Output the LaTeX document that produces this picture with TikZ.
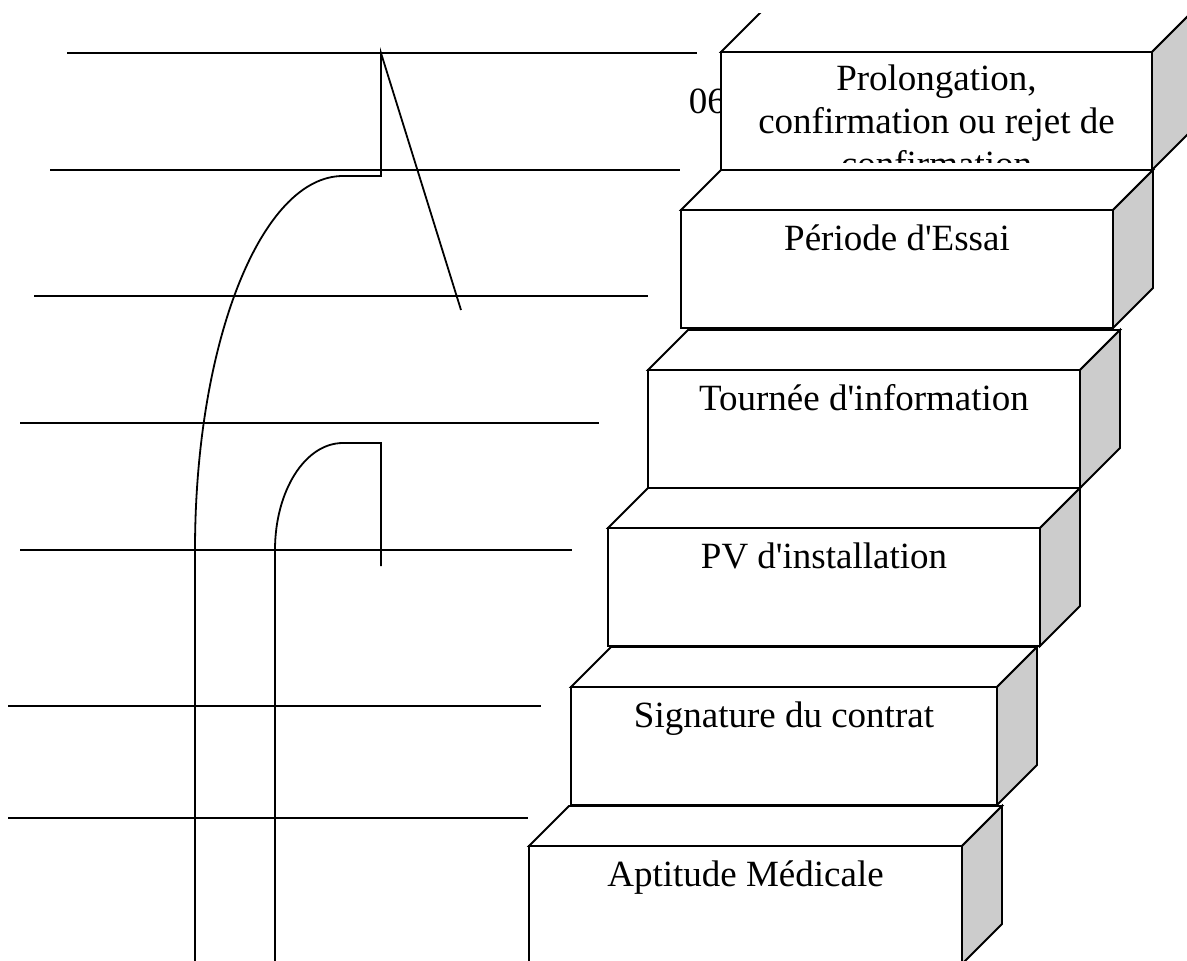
\documentclass[tikz,border=0pt]{standalone}
\usepackage{fontspec}
\setmainfont{Liberation Serif}[Ligatures=TeXOff]
\usetikzlibrary{calc}
\definecolor{sidegray}{HTML}{CCCCCC}
\newcommand\stairbox[4]{%
  \node[front, minimum width=#4] (#1) at (#2,#3) {};
  \draw[face] (#1.north west) -- ++(40,-40) -- ($(#1.north east)+(40,-40)$) -- (#1.north east) -- cycle;
  \draw[side] (#1.north east) -- ++(40,-40) -- ($(#1.south east)+(40,-40)$) -- (#1.south east) -- cycle;
}
\begin{document}
\begin{tikzpicture}[x=1pt, y=-1pt, line width=1.8pt,
  front/.style={draw, fill=white, rectangle, minimum height=118pt, anchor=north west, inner sep=0pt, outer sep=0pt},
  face/.style={fill=white, line join=miter},
  side/.style={fill=sidegray, line join=miter},
  lbl/.style={font=\fontsize{37}{43}\selectfont, inner sep=0pt, anchor=base},
  rule/.style={line cap=butt}]
\useasboundingbox (0,0) rectangle (1187,961);
\clip (0,13.5) rectangle (1187,961);
% horizontal lines
\coordinate (h1a) at (67,53);  \coordinate (h1b) at (697,53);
\coordinate (h2a) at (50,170); \coordinate (h2b) at (680,170);
\coordinate (h3a) at (34,296); \coordinate (h3b) at (648,296);
\coordinate (h4a) at (20,423); \coordinate (h4b) at (599,423);
\coordinate (h5a) at (20,550); \coordinate (h5b) at (572,550);
\coordinate (h6a) at (8,706);  \coordinate (h6b) at (541,706);
\coordinate (h7a) at (8,818);  \coordinate (h7b) at (528,818);
\foreach \i in {1,...,7} \draw[rule] (h\i a) -- (h\i b);
% curves
\coordinate (c1s) at (195,961); \coordinate (c1v) at (195,550);
\coordinate (c1f) at (343,176); \coordinate (c1k) at (381,176);
\coordinate (c1t) at (381,53);  \coordinate (c1e) at (461,310);
\draw (c1s) -- (c1v) .. controls (195,343) and (261,176) .. (c1f) -- (c1k) -- (c1t) -- (c1e);
\coordinate (c2s) at (275,961); \coordinate (c2v) at (275,550);
\coordinate (c2f) at (343,443); \coordinate (c2k) at (381,443);
\coordinate (c2e) at (381,566);
\draw (c2s) -- (c2v) .. controls (275,491) and (305,443) .. (c2f) -- (c2k) -- (c2e);
% label 06
\node[lbl, anchor=base west] (n06) at (688,113) {06};
% steps
\stairbox{b1}{721}{52}{431}
\begin{scope}
\clip (b1.north west) rectangle ($(b1.north east)+(0,110)$);
\node[lbl] (t1a) at ($(b1.north)+(0,38)$) {Prolongation,};
\node[lbl] (t1b) at ($(b1.north)+(0,81)$) {confirmation ou rejet de};
\node[lbl] (t1c) at ($(b1.north)+(0,124)$) {confirmation};
\end{scope}
\stairbox{b2}{681}{210}{432}
\node[lbl] (t2) at ($(b2.north)+(0,40)$) {Période d'Essai};
\stairbox{b3}{648}{370}{432}
\node[lbl] (t3) at ($(b3.north)+(0,40)$) {Tournée d'information};
\stairbox{b4}{608}{528}{432}
\node[lbl] (t4) at ($(b4.north)+(0,40)$) {PV d'installation};
\stairbox{b5}{571}{687}{426}
\node[lbl] (t5) at ($(b5.north)+(0,40)$) {Signature du contrat};
\stairbox{b6}{529}{846}{433}
\node[lbl] (t6) at ($(b6.north)+(0,40)$) {Aptitude Médicale};
\end{tikzpicture}
\end{document}
